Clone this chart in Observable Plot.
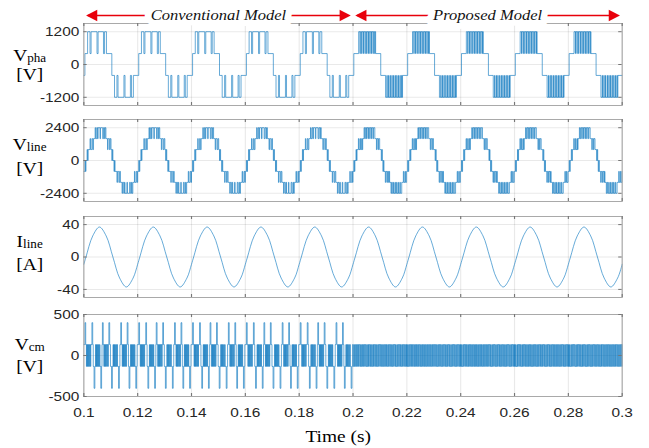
<!DOCTYPE html>
<html>
<head>
<meta charset="utf-8">
<script src="https://cdn.jsdelivr.net/npm/d3@7"></script>
<script src="https://cdn.jsdelivr.net/npm/@observablehq/plot@0.6"></script>
<style>
  html, body { margin: 0; background: #fff; }
  #fig { position: relative; width: 569px; height: 448px; transform: scaleX(1.1406); transform-origin: 0 0; }
  .panel { position: absolute; left: 0; width: 569px; }
  .ylab { position: absolute; left: 4px; width: 44px; text-align: center; white-space: nowrap;
          font-family: "Liberation Serif", "Times New Roman", serif; font-size: 17px; line-height: 17px; color: #000; }
  .ylab sub { font-size: 11.5px; vertical-align: -1px; line-height: 0; }
</style>
</head>
<body>
<div id="fig"></div>
<script>
// ---- time axis ----
const xDomain = [0.1, 0.3];
const xTicks = [0.1, 0.12, 0.14, 0.16, 0.18, 0.2, 0.22, 0.24, 0.26, 0.28, 0.3];
const convStarts = [0.10, 0.12, 0.14, 0.16, 0.18];   // fundamental cycles, conventional model
const propStarts = [0.20, 0.22, 0.24, 0.26, 0.28];   // fundamental cycles, proposed model
const spans = [
  {label: "Conventional Model", from: 0.1, to: 0.2},
  {label: "Proposed Model", from: 0.2, to: 0.3}
];

// ---- phase voltage [V]: one fundamental cycle, [ms into cycle, level] ----
const vphaTicks = [-1200, 0, 1200];
const vphaDomain = [-1500, 1500];
const vphaConv = [
  [0.0,-400],[0.4,400],[1.4,1200],[2.3,400],[2.7,1200],[4.9,400],[5.3,1200],[7.3,400],[7.7,1200],[8.4,400],
  [10.4,-400],[11.4,-1200],[12.3,-400],[12.7,-1200],[14.9,-400],[15.3,-1200],[17.3,-400],[17.7,-1200],[18.4,-400]
];
const vphaProp = [
  [0.0,-400],[0.3,400],[2.1,1200],[2.6,400],[2.7,1200],[3.2,400],[3.3,1200],[3.8,400],[3.9,1200],[4.45,400],
  [4.55,1200],[5.05,400],[5.15,1200],[5.65,400],[5.75,1200],[6.25,400],[6.35,1200],[6.85,400],[6.95,1200],[7.45,400],
  [7.55,1200],[8.05,400],[8.15,1200],[8.4,400],
  [10.3,-400],[12.1,-1200],[12.6,-400],[12.7,-1200],[13.2,-400],[13.3,-1200],[13.8,-400],[13.9,-1200],[14.45,-400],
  [14.55,-1200],[15.05,-400],[15.15,-1200],[15.65,-400],[15.75,-1200],[16.25,-400],[16.35,-1200],[16.85,-400],[16.95,-1200],
  [17.45,-400],[17.55,-1200],[18.05,-400],[18.15,-1200],[18.4,-400]
];

// ---- line voltage [V] ----
const vlineTicks = [-2400, 0, 2400];
const vlineDomain = [-3000, 3000];
const vlineConv = [
  [0.0,-800],[0.4,0],[0.6,-800],[0.8,0],[1.2,800],[1.4,0],[1.6,800],[2.3,1600],[2.5,800],[3.0,1600],[3.3,800],
  [3.6,1600],[4.2,2400],[4.4,1600],[4.8,2400],[5.1,1600],[5.3,2400],[6.0,1600],[6.2,2400],[7.0,1600],[7.3,2400],
  [7.7,1600],[7.9,2400],[8.2,1600],[8.8,800],[9.0,1600],[9.5,800],[9.8,1600],[10.1,800],[10.4,0],[10.6,800],[10.8,0],
  [11.2,-800],[11.4,0],[11.6,-800],[12.3,-1600],[12.5,-800],[13.0,-1600],[13.3,-800],[13.6,-1600],[14.2,-2400],
  [14.4,-1600],[14.8,-2400],[15.1,-1600],[15.3,-2400],[16.0,-1600],[16.2,-2400],[17.0,-1600],[17.3,-2400],[17.7,-1600],
  [17.9,-2400],[18.2,-1600],[18.8,-800],[19.0,-1600],[19.5,-800],[19.8,-1600]
];
const vlineProp = [
  [0.0,-800],[0.3,0],[0.5,-800],[0.7,0],[1.1,800],[1.3,0],[1.5,800],[2.0,1600],[2.2,800],[2.6,1600],[2.8,800],
  [3.2,1600],[3.4,800],[3.6,1600],[4.1,2400],[4.35,1600],[4.6,2400],[5.0,1600],[5.15,2400],[5.6,1600],[5.75,2400],
  [6.2,1600],[6.35,2400],[6.8,1600],[6.95,2400],[7.4,1600],[7.6,2400],[8.1,1600],[8.7,800],[8.9,1600],[9.3,800],
  [9.5,1600],[9.9,800],[10.5,0],[10.7,800],[10.9,0],
  [11.1,-800],[11.3,0],[11.5,-800],[12.0,-1600],[12.2,-800],[12.6,-1600],[12.8,-800],[13.2,-1600],[13.4,-800],
  [13.6,-1600],[14.1,-2400],[14.35,-1600],[14.6,-2400],[15.0,-1600],[15.15,-2400],[15.6,-1600],[15.75,-2400],
  [16.2,-1600],[16.35,-2400],[16.8,-1600],[16.95,-2400],[17.4,-1600],[17.6,-2400],[18.1,-1600],[18.7,-800],[18.9,-1600],
  [19.3,-800],[19.5,-1600],[19.9,-800]
];

// ---- line current [A]: samples along one cycle ----
const ilineTicks = [-40, 0, 40];
const ilineDomain = [-50, 50];
const ilineCycle = [
  [0.0,-9],[0.8,0],[3.3,26],[5.8,37],[8.3,26],[10.8,0],[13.3,-26],[15.8,-37],[18.3,-26]
];

// ---- common-mode voltage [V] ----
const vcmTicks = [-500, 0, 500];
const vcmDomain = [-500, 500];
const vcmConv = [
  [0.0,133],[0.4,400],[0.7,133],[0.95,-133],[1.1,133],[1.3,-133],[1.45,133],[1.65,-133],[1.8,133],[2.05,-133],
  [2.2,133],[2.45,-133],[2.6,133],[3.0,400],[3.3,133],[3.5,-133],
  [3.8,-400],[4.1,-133],[4.35,133],[4.5,-133],[4.7,133],[4.85,-133],[5.05,133],[5.2,-133],[5.45,133],[5.6,-133],
  [5.85,133],[6.0,-133],[6.3,-400],[6.6,-133],[6.75,133],
  [6.9,400],[7.2,133],[7.45,-133],[7.6,133],[7.8,-133],[7.95,133],[8.15,-133],[8.3,133],[8.55,-133],[8.7,133],
  [8.95,-133],[9.1,133],[9.3,400],[9.6,133],[9.9,-133],
  [10.3,-400],[10.6,-133],[10.85,133],[11.0,-133],[11.2,133],[11.35,-133],[11.55,133],[11.7,-133],[11.95,133],
  [12.1,-133],[12.35,133],[12.5,-133],[12.9,-400],[13.2,-133],[13.4,133],
  [13.7,400],[14.0,133],[14.25,-133],[14.4,133],[14.6,-133],[14.75,133],[14.95,-133],[15.1,133],[15.35,-133],
  [15.5,133],[15.75,-133],[15.9,133],[16.1,400],[16.4,133],[16.6,-133],
  [16.8,-400],[17.1,-133],[17.35,133],[17.5,-133],[17.7,133],[17.85,-133],[18.05,133],[18.2,-133],[18.45,133],
  [18.6,-133],[18.85,133],[19.0,-133],[19.3,-400],[19.6,-133],[19.8,133]
];
const vcmProp = [
  [0.0,133],[0.15,-133],[0.4,133],[0.55,-133],[0.9,133],[1.1,-133],[1.3,133],[1.6,-133],[1.75,133],[2.05,-133],
  [2.2,133],[2.5,-133],[2.8,133],[2.95,-133],[3.2,133],[3.45,-133],[3.6,133],[3.9,-133],[4.1,133],[4.35,-133],
  [4.55,133],[4.8,-133],[5.1,133],[5.25,-133],[5.5,133],[5.75,-133],[5.9,133],[6.2,-133],[6.45,133],[6.6,-133],
  [6.9,133],[7.1,-133],[7.35,133],[7.6,-133],[7.75,133],[8.05,-133],[8.3,133],[8.5,-133],[8.75,133],[8.95,-133],
  [9.2,133],[9.5,-133],[9.65,133],[9.95,-133],[10.15,133],[10.4,-133],[10.6,133],[10.9,-133],[11.1,133],[11.3,-133],
  [11.6,133],[11.8,-133],[12.05,133],[12.3,-133],[12.45,133],[12.75,-133],[13.0,133],[13.2,-133],[13.45,133],
  [13.7,-133],[13.9,133],[14.2,-133],[14.4,133],[14.6,-133],[14.85,133],[15.1,-133],[15.3,133],[15.6,-133],
  [15.8,133],[16.0,-133],[16.3,133],[16.5,-133],[16.75,133],[17.0,-133],[17.2,133],[17.5,-133],[17.65,133],
  [17.95,-133],[18.2,133],[18.4,-133],[18.65,133],[18.9,-133],[19.1,133],[19.4,-133],[19.6,133],[19.85,-133]
];

// ---- layout (unscaled units; the figure is stretched horizontally by 1.1406) ----
const W = 569, ML = 73, MR = 24;
const blue = "#0072BD";
const red = "#e8000b";
const serif = "'Liberation Serif', 'Times New Roman', serif";

// lay out a one-cycle pattern on each cycle start
function expand(starts, pattern) {
  const out = [];
  for (const c of starts) for (const [ms, v] of pattern) out.push({t: c + ms / 1000, v});
  return out;
}
function series(conv, prop) {
  const out = [...expand(convStarts, conv), ...expand(propStarts, prop)];
  out.push({t: xDomain[1], v: prop[0][1]});
  return out;
}

function panel({data, curve, yDomain, yTicks, height, marginTop, marginBottom, width = 0.8, opacity = 0.7, extra = []}) {
  const plotW = W - ML - MR;
  const plotH = height - marginTop - marginBottom;
  return Plot.plot({
    width: W, height, marginLeft: ML, marginRight: MR, marginTop, marginBottom,
    x: {domain: xDomain, axis: null},
    y: {domain: yDomain, axis: null},
    style: {fontFamily: "'Liberation Sans', Arial, sans-serif", fontSize: "13.5px", color: "#262626", background: "transparent", overflow: "visible"},
    marks: [
      Plot.gridX(xTicks, {stroke: "#000", strokeOpacity: 0.085}),
      Plot.gridY(yTicks, {stroke: "#000", strokeOpacity: 0.085}),
      Plot.line(data, {x: "t", y: "v", curve, stroke: blue, strokeWidth: width, strokeOpacity: opacity}),
      Plot.frame({stroke: "#a9a9a9"}),
      Plot.tickX(xTicks, {x: d => d, insetTop: plotH - 3, stroke: "#777"}),
      Plot.tickX(xTicks, {x: d => d, insetBottom: plotH - 3, stroke: "#777"}),
      Plot.tickY(yTicks, {y: d => d, insetRight: plotW - 3, stroke: "#777"}),
      Plot.tickY(yTicks, {y: d => d, insetLeft: plotW - 3, stroke: "#777"}),
      Plot.axisY(yTicks, {label: null, tickSize: 0, tickPadding: 4, tickFormat: d => String(d)}),
      ...extra
    ]
  });
}

const fig = document.getElementById("fig");
function place(svg, top) {
  const div = document.createElement("div");
  div.className = "panel";
  div.style.top = top + "px";
  div.appendChild(svg);
  fig.appendChild(div);
}
function ylabel(main, sub, unit, top1, top2) {
  const a = document.createElement("div");
  a.className = "ylab"; a.style.top = top1 + "px";
  a.innerHTML = `${main}<sub>${sub}</sub>`;
  const b = document.createElement("div");
  b.className = "ylab"; b.style.top = top2 + "px";
  b.textContent = unit;
  fig.appendChild(a); fig.appendChild(b);
}

// arrow-and-title annotations above the first panel
const topY = vphaDomain[1];
const leftHeads = spans.map(s => s.from);
const rightHeads = spans.map(s => s.to);
const head = {y: () => topY, dy: -8, symbol: "triangle", r: 4.2, fill: red, stroke: "none"};
const annotation = [
  Plot.ruleY(spans, {y: () => topY, x1: "from", x2: "to", dy: -8, stroke: red, strokeWidth: 1.6, insetLeft: 4, insetRight: 4}),
  Plot.dot(leftHeads, {...head, x: d => d, dx: 8.5, rotate: -90}),
  Plot.dot(rightHeads, {...head, x: d => d, dx: -8.5, rotate: 90}),
  Plot.text(spans, {x: d => (d.from + d.to) / 2, y: () => topY, dy: -8, text: "label", fontFamily: serif,
    fontStyle: "italic", fontSize: 14.5, fill: "#111", stroke: "white", strokeWidth: 12, strokeLinejoin: "round"})
];

place(panel({data: series(vphaConv, vphaProp), curve: "step-after", yDomain: vphaDomain, yTicks: vphaTicks,
  height: 108, marginTop: 23, marginBottom: 3, extra: annotation}), 0);
place(panel({data: series(vlineConv, vlineProp), curve: "step-after", yDomain: vlineDomain, yTicks: vlineTicks,
  height: 88, marginTop: 3, marginBottom: 3}), 116);
place(panel({data: series(ilineCycle, ilineCycle), curve: "catmull-rom", yDomain: ilineDomain, yTicks: ilineTicks,
  height: 87, marginTop: 3, marginBottom: 3, width: 0.75, opacity: 0.75}), 213);
place(panel({data: series(vcmConv, vcmProp), curve: "step-after", yDomain: vcmDomain, yTicks: vcmTicks,
  height: 137, marginTop: 3, marginBottom: 52, extra: [
    Plot.axisX(xTicks, {label: null, tickSize: 0, tickPadding: 11, tickFormat: d => String(+d.toFixed(2))}),
    Plot.text(["Time (s)"], {frameAnchor: "bottom", dy: 45, dx: -13, lineAnchor: "bottom",
      fontFamily: serif, fontSize: 17, fontWeight: 400, fill: "#000"})
  ]}), 311);

ylabel("V", "pha", "[V]", 46.8, 65.8);
ylabel("V", "line", "[V]", 135.8, 159.8);
ylabel("I", "line", "[A]", 232.8, 255.8);
ylabel("V", "cm", "[V]", 335.8, 357.8);
</script>
</body>
</html>
